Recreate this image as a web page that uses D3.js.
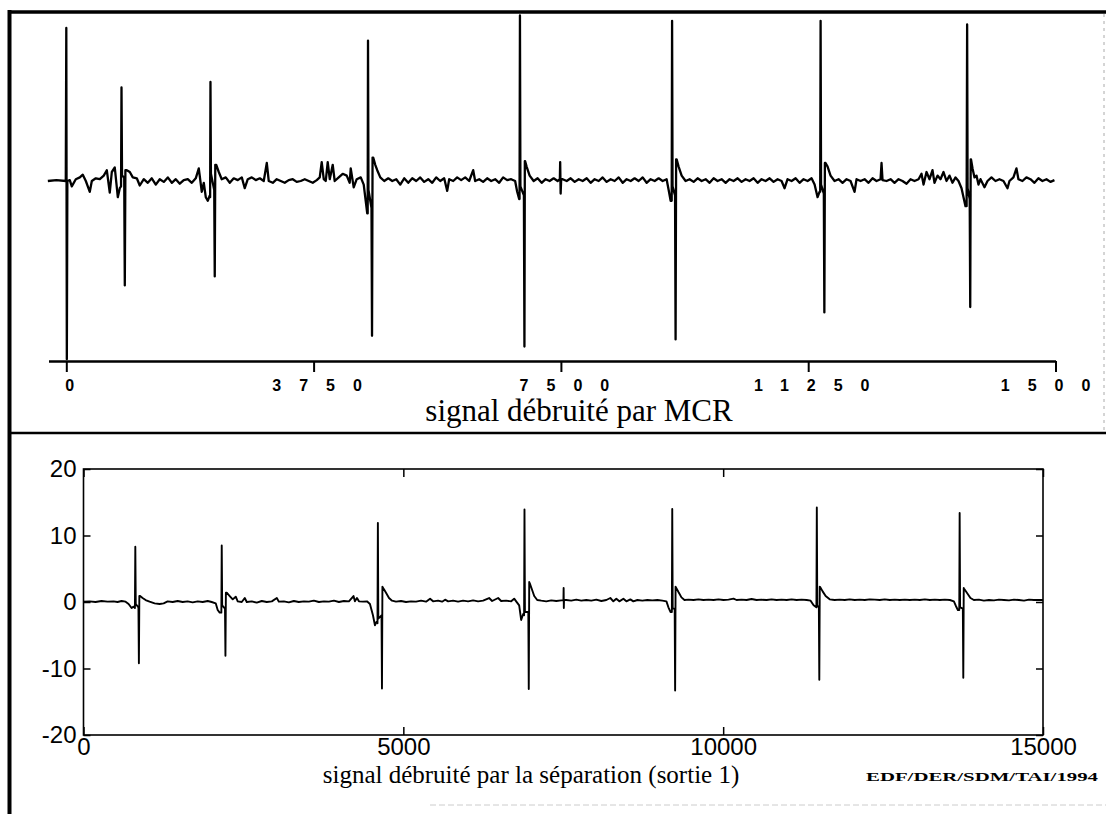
<!DOCTYPE html>
<html><head><meta charset="utf-8">
<script src="https://cdn.jsdelivr.net/npm/d3@7"></script>
<style>
html,body{margin:0;padding:0;background:#fff;overflow:hidden}
svg{display:block}
</style></head><body>
<svg id="chart" width="1106" height="814"></svg>
<script>
// ---------- data ----------
const topTicks = [0, 3750, 7500, 11250, 15000];
const topAxisExtent = [-270, 15000];
const bottomXTicks = [0, 5000, 10000, 15000];
const bottomYTicks = [-20, -10, 0, 10, 20];
const topCaption = "signal débruité par MCR";
const bottomCaption = "signal débruité par la séparation (sortie 1)";
const credit = "EDF/DER/SDM/TAI/1994";

// [sample, amplitude]
const mcrSignal = [[-280,0],[-150,0.05],[-8,0],[0,8.5],[8,-9.9],[16,0],[53,0.05],[83,-0.3],[144,0.1],[205,0.2],[250,0.35],[296,0],[356,-0.6],[387,0],[447,0.15],[508,0.1],[568,0.3],[614,0.6],[659,-0.65],[690,0.5],[735,0.75],[781,-0.9],[811,-0.4],[830,-0.3],[837,5.2],[845,0.3],[878,0.2],[887,-5.8],[896,0.6],[917,0.6],[963,0.5],[1008,0.2],[1069,0.15],[1114,-0.25],[1175,0.1],[1236,-0.1],[1296,0.15],[1357,-0.2],[1417,0.1],[1478,-0.05],[1539,0.2],[1600,-0.1],[1660,0.1],[1721,-0.15],[1781,0.05],[1842,0.1],[1903,-0.1],[1963,0.15],[2009,0.7],[2054,-0.6],[2085,-0.1],[2115,-0.9],[2145,-1.1],[2176,-0.8],[2181,-0.9],[2186,5.5],[2193,0.4],[2243,-0.5],[2251,-5.3],[2259,0.9],[2274,0.9],[2312,0.5],[2357,0.1],[2418,0.2],[2479,-0.1],[2539,0.15],[2600,0.05],[2661,0.2],[2706,-0.4],[2752,0.1],[2812,0.2],[2873,0.05],[2934,0.15],[2994,0],[3040,1.0],[3070,0],[3131,-0.1],[3191,0.1],[3252,0],[3312,-0.1],[3373,0.05],[3434,0.1],[3494,-0.05],[3555,0],[3616,0.1],[3676,0],[3737,-0.1],[3798,0.05],[3843,0.2],[3873,1.05],[3904,0.1],[3934,0],[3964,1.05],[3995,0.1],[4040,0.9],[4070,0],[4131,0.2],[4191,0.4],[4252,0.3],[4297,-0.1],[4313,0.7],[4358,-0.35],[4404,0.1],[4465,0.2],[4510,-0.2],[4540,-1.1],[4563,-1.8],[4570,-1.8],[4575,7.8],[4582,-0.5],[4628,-1.5],[4636,-8.6],[4644,1.3],[4654,1.3],[4685,0.9],[4715,0.6],[4761,0.2],[4821,0],[4882,0.15],[4943,0],[5003,0.1],[5064,-0.2],[5124,0.15],[5185,-0.1],[5246,0.15],[5306,0],[5367,0.2],[5427,-0.05],[5488,0.1],[5549,-0.1],[5609,0.2],[5670,0],[5730,0.15],[5776,-0.55],[5806,0.1],[5867,0],[5927,0.2],[5988,0.05],[6049,0.2],[6109,0],[6170,0.6],[6200,0],[6261,0.1],[6321,-0.05],[6382,0.15],[6443,0],[6503,0.1],[6564,-0.1],[6624,0.2],[6685,0.05],[6746,0.1],[6806,0],[6837,-0.6],[6867,-1.0],[6873,-1.0],[6879,9.2],[6886,-0.3],[6939,-0.8],[6947,-9.2],[6953,1.1],[6958,1.1],[6980,0.8],[7026,0.3],[7087,0],[7147,0.15],[7208,-0.1],[7268,0.1],[7329,0],[7390,0.15],[7450,0],[7484,0.1],[7489,1.05],[7496,-0.7],[7504,0.1],[7527,0.1],[7588,0],[7648,0.15],[7709,-0.05],[7770,0.1],[7830,0],[7891,0.15],[7951,-0.1],[8012,0.1],[8073,0],[8133,0.2],[8194,-0.05],[8255,0.1],[8315,0],[8376,0.2],[8437,-0.1],[8497,0.1],[8558,0],[8618,0.15],[8679,0],[8740,0.2],[8800,-0.1],[8861,0.1],[8922,0],[8982,0.15],[9043,0],[9103,0.1],[9134,-0.5],[9164,-1.1],[9180,-1.1],[9186,8.9],[9193,-0.3],[9231,-0.8],[9239,-8.8],[9247,1.2],[9255,1.2],[9285,0.8],[9331,0.3],[9391,0],[9452,0.1],[9513,-0.05],[9573,0.15],[9634,0],[9695,0.1],[9755,-0.1],[9816,0.15],[9876,0],[9937,0.1],[9998,-0.1],[10058,0.1],[10119,0],[10180,0.15],[10240,-0.05],[10301,0.1],[10361,0],[10422,0.15],[10483,-0.1],[10543,0.1],[10604,0],[10665,0.15],[10725,-0.05],[10786,0.1],[10846,0],[10892,-0.4],[10937,0.1],[10998,0],[11059,0.15],[11119,-0.1],[11180,0.1],[11241,0],[11301,0.15],[11347,-0.2],[11392,-0.9],[11422,-0.6],[11432,-0.6],[11438,8.9],[11445,-0.2],[11487,-0.7],[11495,-7.3],[11503,1.0],[11513,1.0],[11544,0.8],[11589,0.3],[11650,0],[11710,0.1],[11771,-0.1],[11832,0.1],[11892,0],[11953,-0.6],[11983,0.1],[12044,0],[12105,0.1],[12165,-0.1],[12226,0.15],[12286,0],[12347,0.1],[12362,1.0],[12377,0.05],[12438,0],[12499,0.1],[12559,-0.1],[12620,0.1],[12680,0],[12741,-0.15],[12802,0.1],[12862,0],[12923,0.1],[12968,0.4],[12999,-0.2],[13044,0.5],[13090,0.1],[13135,0.6],[13165,-0.1],[13211,0.3],[13256,0.1],[13302,0.5],[13347,0],[13393,0.3],[13438,-0.1],[13484,0.2],[13529,0],[13575,-0.4],[13605,-0.9],[13635,-1.4],[13652,-1.4],[13660,8.7],[13667,-0.4],[13699,-1.0],[13707,-7.0],[13714,1.2],[13719,1.2],[13742,0.7],[13772,0.2],[13802,0.3],[13832,-0.2],[13863,0.1],[13923,-0.35],[13969,0],[14029,0.2],[14090,0],[14150,0.1],[14211,0],[14272,-0.4],[14302,0],[14362,0.2],[14408,0.7],[14438,0.1],[14499,0],[14559,0.2],[14620,0.1],[14681,-0.1],[14741,0.15],[14802,0],[14863,0.1],[14923,-0.05],[14984,0.05]];

// [sample, amplitude]
const sepSignal = [[0,0.05],[94,0.1],[188,0],[282,0.15],[376,0.05],[470,0.1],[532,0],[595,0.15],[658,0.05],[705,-0.3],[752,-0.9],[783,-0.7],[804,-0.9],[810,8.3],[817,-0.3],[859,-0.8],[866,-9.2],[873,0.9],[885,0.9],[924,0.6],[971,0.3],[1033,0.05],[1112,-0.2],[1190,-0.3],[1253,-0.2],[1315,0.1],[1394,0],[1472,0.15],[1550,0],[1628,0.1],[1707,-0.05],[1785,0.1],[1863,0],[1942,0.15],[2004,0],[2067,-0.2],[2098,-1.2],[2129,-1.6],[2155,-1.6],[2161,8.5],[2168,-0.5],[2212,-1.0],[2219,-8.1],[2226,1.4],[2239,1.4],[2286,0.9],[2333,0.4],[2380,0.8],[2411,0.1],[2474,0],[2521,0.6],[2552,0],[2631,0.1],[2709,-0.1],[2787,0.15],[2865,0],[2944,0.1],[3022,0.6],[3053,0.05],[3132,0.1],[3210,-0.05],[3288,0.15],[3366,0],[3445,0.1],[3523,0.05],[3601,0.2],[3680,0],[3758,0.1],[3836,0.05],[3915,0.2],[3993,0],[4071,0.15],[4149,0.1],[4221,0.9],[4243,0.1],[4275,0.6],[4306,0.1],[4369,0.05],[4431,0.1],[4478,-0.3],[4525,-2.0],[4556,-3.5],[4580,-3.0],[4596,-3.2],[4602,11.9],[4609,-2.5],[4659,-2.0],[4666,-13.0],[4673,2.3],[4697,1.9],[4729,1.4],[4776,0.6],[4823,0.2],[4885,0.05],[4964,0.15],[5042,0],[5120,0.1],[5198,0.05],[5277,0.2],[5355,0.05],[5418,0.5],[5465,0.1],[5543,0.2],[5606,0.05],[5653,0.35],[5700,0.1],[5778,0.2],[5856,0.05],[5934,0.2],[6013,0.1],[6091,0.25],[6169,0.1],[6247,0.2],[6341,0.6],[6388,0.15],[6482,0.6],[6529,0.15],[6608,0.2],[6686,0.1],[6733,0.5],[6764,0.1],[6811,-0.5],[6842,-2.7],[6874,-1.8],[6888,-2.0],[6894,13.9],[6901,-1.5],[6954,-1.5],[6961,-13.1],[6968,3.0],[6977,2.8],[7007,2.0],[7046,0.9],[7093,0.3],[7156,0.2],[7234,0.1],[7312,0.25],[7391,0.15],[7469,0.25],[7503,0.25],[7506,2.1],[7509,-0.9],[7512,0.3],[7547,0.3],[7625,0.2],[7704,0.35],[7782,0.2],[7860,0.3],[7939,0.2],[8017,0.35],[8095,0.15],[8174,0.3],[8236,0.6],[8283,0.1],[8330,0.5],[8377,0.1],[8440,0.5],[8487,0.1],[8549,0.4],[8596,0.1],[8659,0.3],[8737,0.2],[8815,0.3],[8894,0.25],[8972,0.3],[9050,0.2],[9113,0.1],[9144,-0.8],[9176,-1.5],[9198,-1.5],[9204,14.0],[9211,-1.0],[9242,-1.0],[9249,-13.3],[9256,2.3],[9262,2.2],[9301,1.5],[9348,0.7],[9395,0.3],[9458,0.35],[9536,0.3],[9614,0.4],[9692,0.3],[9771,0.35],[9849,0.3],[9927,0.4],[10005,0.3],[10084,0.35],[10162,0.5],[10209,0.3],[10287,0.35],[10366,0.3],[10444,0.45],[10522,0.3],[10600,0.35],[10679,0.3],[10757,0.4],[10835,0.3],[10913,0.35],[10992,0.3],[11070,0.4],[11148,0.3],[11226,0.35],[11305,0.3],[11367,0.2],[11414,-0.5],[11445,-0.7],[11458,-0.8],[11464,14.2],[11471,-0.5],[11496,-0.8],[11503,-11.7],[11510,2.3],[11520,2.2],[11555,1.6],[11602,0.9],[11665,0.4],[11743,0.3],[11822,0.35],[11900,0.3],[11978,0.4],[12057,0.3],[12135,0.35],[12213,0.3],[12291,0.4],[12370,0.35],[12448,0.3],[12526,0.4],[12605,0.3],[12683,0.35],[12761,0.3],[12840,0.35],[12918,0.3],[12996,0.35],[13074,0.3],[13153,0.4],[13231,0.3],[13309,0.35],[13388,0.3],[13466,0.35],[13544,0.3],[13607,0.1],[13638,-0.6],[13669,-1.2],[13691,-1.2],[13697,13.4],[13704,-0.8],[13747,-1.0],[13754,-11.4],[13761,2.1],[13767,2.0],[13810,1.4],[13866,0.6],[13919,0.3],[13998,0.35],[14076,0.2],[14155,0.3],[14233,0.25],[14311,0.35],[14390,0.3],[14468,0.25],[14546,0.35],[14624,0.3],[14703,0.2],[14781,0.35],[14859,0.3],[14937,0.3],[15000,0.3]];

// ---------- drawing ----------
const svg = d3.select("#chart");
const sans = "'Liberation Sans', Arial, Helvetica, sans-serif";
const serif = "'Liberation Serif', 'Times New Roman', serif";

// outer frame (scanned figure border)
const frame = svg.append("g").attr("stroke", "#000").attr("fill", "none");
frame.append("line").attr("x1", 9.5).attr("x2", 9.5).attr("y1", 10).attr("y2", 814).attr("stroke-width", 4);
frame.append("line").attr("x1", 8).attr("x2", 1106).attr("y1", 12).attr("y2", 12).attr("stroke-width", 3.5);
frame.append("line").attr("x1", 8).attr("x2", 1106).attr("y1", 433).attr("y2", 433).attr("stroke-width", 2.5);
frame.append("line").attr("x1", 1104).attr("x2", 1104).attr("y1", 14).attr("y2", 432)
  .attr("stroke", "#aaa").attr("stroke-width", 1).attr("stroke-dasharray", "3,4");
frame.append("line").attr("x1", 430).attr("x2", 1106).attr("y1", 805).attr("y2", 805)
  .attr("stroke", "#ccc").attr("stroke-width", 1).attr("stroke-dasharray", "6,3");

// ---- top panel ----
const xTop = d3.scaleLinear().domain(topAxisExtent).range([48.5, 1055.5]);
const yTop = d3.scaleLinear().domain([-10, 10]).range([361, 1]);

const topAxis = svg.append("g").attr("transform", "translate(0,361)")
  .call(d3.axisBottom(xTop).tickValues(topTicks).tickSize(11).tickSizeOuter(0).tickPadding(8)
        .tickFormat(d => String(d)));
topAxis.select(".domain").attr("stroke", "#000").attr("stroke-width", 2.5);
topAxis.selectAll(".tick line").attr("stroke", "#000").attr("stroke-width", 2);
topAxis.selectAll(".tick text")
  .attr("fill", "#000").attr("font-family", sans).attr("font-weight", "bold")
  .attr("font-size", 16).attr("letter-spacing", "18px").attr("dx", 12);

const lineTop = d3.line().x(d => xTop(d[0])).y(d => yTop(d[1]));
svg.append("path").datum(mcrSignal).attr("d", lineTop)
  .attr("fill", "none").attr("stroke", "#000").attr("stroke-width", 2.3)
  .attr("stroke-linejoin", "round");

svg.append("text").attr("x", 579).attr("y", 421)
  .attr("text-anchor", "middle").attr("font-family", serif).attr("font-size", 31)
  .attr("fill", "#000").text(topCaption);

// ---- bottom panel ----
const xB = d3.scaleLinear().domain([0, 15000]).range([83.5, 1043]);
const yB = d3.scaleLinear().domain([-20, 20]).range([735, 469]);

function styleAxis(g, showText) {
  g.select(".domain").remove();
  g.selectAll(".tick line").attr("stroke", "#000").attr("stroke-width", 1.5);
  g.selectAll(".tick text").attr("fill", "#000").attr("font-family", sans).attr("font-size", 24);
  if (!showText) g.selectAll(".tick text").remove();
}
svg.append("g").attr("transform", "translate(0,735)")
  .call(d3.axisBottom(xB).tickValues(bottomXTicks).tickSize(-8).tickPadding(3).tickFormat(d => String(d)))
  .call(g => styleAxis(g, true));
svg.append("g").attr("transform", "translate(0,469)")
  .call(d3.axisTop(xB).tickValues(bottomXTicks).tickSize(-8))
  .call(g => styleAxis(g, false));
svg.append("g").attr("transform", "translate(83.5,0)")
  .call(d3.axisLeft(yB).tickValues(bottomYTicks).tickSize(-7).tickPadding(7).tickFormat(d => String(d)))
  .call(g => styleAxis(g, true));
svg.append("g").attr("transform", "translate(1043,0)")
  .call(d3.axisRight(yB).tickValues(bottomYTicks).tickSize(-7))
  .call(g => styleAxis(g, false));

svg.append("rect").attr("x", xB(0)).attr("y", yB(20))
  .attr("width", xB(15000) - xB(0)).attr("height", yB(-20) - yB(20))
  .attr("fill", "none").attr("stroke", "#000").attr("stroke-width", 1.6);

const lineB = d3.line().x(d => xB(d[0])).y(d => yB(d[1]));
svg.append("path").datum(sepSignal).attr("d", lineB)
  .attr("fill", "none").attr("stroke", "#000").attr("stroke-width", 1.9)
  .attr("stroke-linejoin", "round");

svg.append("text").attr("x", 531).attr("y", 783)
  .attr("text-anchor", "middle").attr("font-family", serif).attr("font-size", 25)
  .attr("fill", "#000").text(bottomCaption);

svg.append("text").attr("x", 1098).attr("y", 781)
  .attr("text-anchor", "end").attr("font-family", serif).attr("font-size", 13)
  .attr("font-weight", "bold").attr("fill", "#000")
  .attr("textLength", 232).attr("lengthAdjust", "spacingAndGlyphs").text(credit);
</script>
</body></html>
